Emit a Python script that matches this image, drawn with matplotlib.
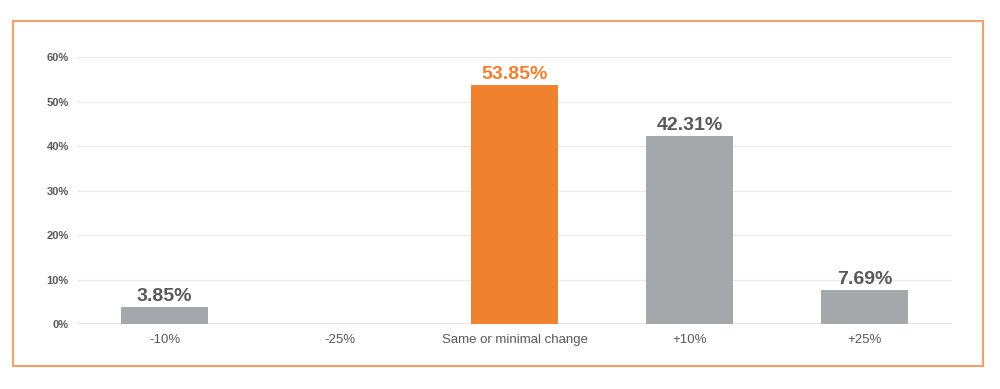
import matplotlib
matplotlib.use("Agg")
import matplotlib.pyplot as plt
from matplotlib.patches import Rectangle

categories = ["-10%", "-25%", "Same or minimal change", "+10%", "+25%"]
values = [3.85, 0.0, 53.85, 42.31, 7.69]
highlight = "Same or minimal change"
yticks = [0, 10, 20, 30, 40, 50, 60]

ORANGE = "#F0812F"
GREY = "#A5A8AB"
TEXT = "#595959"

plt.rcParams["font.family"] = ["Liberation Sans", "DejaVu Sans"]

fig = plt.figure(figsize=(10, 3.89), dpi=100)
fig.patches.append(Rectangle((0.013, 0.059), 0.970, 0.887, transform=fig.transFigure,
                             fill=False, edgecolor="#F4A06A", linewidth=1.5))
ax = fig.add_axes([0.077, 0.167, 0.875, 0.686])

x = range(len(categories))
colors = [ORANGE if c == highlight else GREY for c in categories]
ax.bar(x, values, width=0.5, color=colors, zorder=2)

for xi, v, c in zip(x, values, categories):
    if v <= 0:
        continue
    col = ORANGE if c == highlight else TEXT
    ax.text(xi, v + 0.4, f"{v:.2f}%", ha="center", va="bottom", fontsize=14,
            fontweight="bold", color=col)

ax.set_xlim(-0.5, len(categories) - 0.5)
ax.set_ylim(0, 60)
ax.set_yticks(yticks)
ax.set_yticklabels([f"{t}%" for t in yticks], fontsize=8, fontweight="bold", color=TEXT)
ax.set_xticks(list(x))
ax.set_xticklabels(categories, fontsize=9.5, color=TEXT)
ax.tick_params(axis="both", length=0)
ax.tick_params(axis="y", pad=6)
ax.tick_params(axis="x", pad=7)
ax.grid(axis="y", color="#EBEBEB", linewidth=1, zorder=0)
ax.set_axisbelow(True)
for s in ax.spines.values():
    s.set_visible(False)
ax.axhline(0, color="#E3E3E3", linewidth=1.2, zorder=1)

fig.savefig("out.png", dpi=100)
